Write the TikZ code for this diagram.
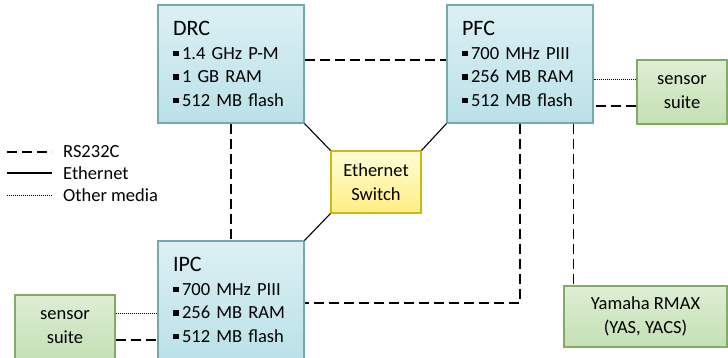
\documentclass[tikz,border=0pt]{standalone}
\usepackage{fontspec}
\setmainfont{Carlito}
\definecolor{pcfilltop}{RGB}{220,240,244}
\definecolor{pcfillbot}{RGB}{186,225,232}
\definecolor{pcline}{RGB}{118,168,178}
\definecolor{grfilltop}{RGB}{222,238,212}
\definecolor{grfillbot}{RGB}{196,224,180}
\definecolor{grline}{RGB}{128,172,100}
\definecolor{swfilltop}{RGB}{255,253,215}
\definecolor{swfillbot}{RGB}{255,238,130}
\definecolor{swline}{RGB}{205,185,20}
\newcommand{\bul}{\rule[3pt]{5.5pt}{5.5pt}\hspace{3.5pt}}
\newcommand{\boxtitle}[1]{{\fontsize{22}{26}\selectfont #1}}
\begin{document}
\begin{tikzpicture}[x=1pt,y=-1pt,
    font=\fontsize{18.5}{23.5}\selectfont,
    computer/.style={rectangle,draw=pcline,line width=1.2pt,top color=pcfilltop,bottom color=pcfillbot,
      text width=116pt,inner xsep=15pt,minimum height=118pt,align=left},
    device/.style={rectangle,draw=grline,line width=1.2pt,top color=grfilltop,bottom color=grfillbot,
      inner sep=0pt,align=center},
    switchbox/.style={rectangle,draw=swline,line width=1.2pt,top color=swfilltop,bottom color=swfillbot,
      minimum width=90pt,minimum height=62pt,inner sep=0pt,align=center},
    rs/.style={line width=1.2pt,dash pattern=on 10pt off 5pt},
    eth/.style={line width=1.1pt},
    other/.style={line width=0.9pt,dash pattern=on 1.1pt off 0.9pt},
    legtext/.style={anchor=west,inner sep=0pt}]
  \useasboundingbox (0,0) rectangle (728,357);
  % computers
  \node[computer] (drc) at (231,64) {\boxtitle{DRC}\\ \bul 1.4 GHz P-M\\ \bul 1 GB RAM\\ \bul 512 MB flash};
  \node[computer] (pfc) at (520,64) {\boxtitle{PFC}\\ \bul 700 MHz PIII\\ \bul 256 MB RAM\\ \bul 512 MB flash};
  \node[computer] (ipc) at (231,300) {\boxtitle{IPC}\\ \bul 700 MHz PIII\\ \bul 256 MB RAM\\ \bul 512 MB flash};
  \node[switchbox] (switch) at (376,182) {Ethernet\\Switch};
  % sensors and helicopter
  \node[device,minimum width=90pt,minimum height=64pt] (sensr) at (682,92) {sensor\\suite};
  \node[device,minimum width=100pt,minimum height=64pt] (sensl) at (65,327) {sensor\\suite};
  \node[device,minimum width=163pt,minimum height=61pt] (yamaha) at (645.5,316.5) {Yamaha RMAX\\(YAS, YACS)};
  % ethernet
  \path[eth] (switch.north west) edge (drc.south east);
  \path[eth] (switch.north east) edge (pfc.south west);
  \path[eth] (switch.south west) edge (ipc.north east);
  % serial lines
  \draw[rs] ([yshift=4pt]drc.east) -- ([yshift=4pt]pfc.west);
  \path[rs] (drc) edge (ipc);
  \draw[rs] (pfc.south) |- ([yshift=-3pt]ipc.east);
  \coordinate (ptoy) at ([xshift=-20pt]pfc.south east);
  \draw[rs] (ptoy) -- (ptoy |- yamaha.north);
  \coordinate (sr1) at ([yshift=13pt]sensr.west);
  \coordinate (sr2) at ([yshift=-14pt]sensr.west);
  \draw[other] (sr1) -- (sr1 -| pfc.east);
  \draw[rs] (sr2) -- (sr2 -| pfc.east);
  \coordinate (sl1) at ([yshift=14pt]sensl.east);
  \coordinate (sl2) at ([yshift=-13pt]sensl.east);
  \draw[other] (sl1) -- (sl1 -| ipc.west);
  \draw[rs] (sl2) -- (sl2 -| ipc.west);
  % legend
  \node[legtext] (lrs) at (63,152) {RS232C};
  \node[legtext] (leth) at (63,173) {Ethernet};
  \node[legtext] (loth) at (63,195) {Other media};
  \draw[rs] ([xshift=-56pt]lrs.west) -- ([xshift=-11pt]lrs.west);
  \draw[eth] ([xshift=-56pt]leth.west) -- ([xshift=-11pt]leth.west);
  \draw[other] ([xshift=-56pt]loth.west) -- ([xshift=-11pt]loth.west);
\end{tikzpicture}
\end{document}
